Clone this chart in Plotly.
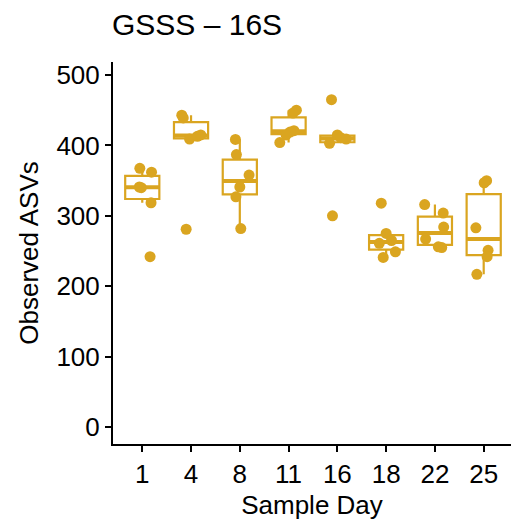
import numpy as np
import plotly.graph_objects as go

days = ["1", "4", "8", "11", "16", "18", "22", "25"]

asv_d1 = [367.5, 362, 341, 340, 318.6, 242]
asv_d4 = [443, 439, 409, 413, 415, 281]
asv_d8 = [408.6, 387, 358, 341, 327, 282]
asv_d11 = [450, 446, 421, 419, 415, 404]
asv_d16 = [465, 415, 411, 409, 403, 300]
asv_d18 = [318, 275, 265, 261, 249, 241]
asv_d22 = [316, 304, 284, 267, 256, 255]
asv_d25 = [350, 347, 283, 251, 242, 217]

jit_d1 = [-0.05, 0.19, -0.06, -0.02, 0.18, 0.16]
jit_d4 = [-0.19, -0.16, -0.03, 0.13, 0.20, -0.10]
jit_d8 = [-0.09, -0.07, 0.19, 0.00, -0.08, 0.02]
jit_d11 = [0.16, 0.09, 0.11, 0.03, -0.05, -0.18]
jit_d16 = [-0.12, 0.00, 0.07, 0.18, -0.16, -0.10]
jit_d18 = [-0.10, 0.00, 0.11, -0.14, 0.19, -0.06]
jit_d22 = [-0.21, 0.17, 0.18, -0.19, 0.07, 0.14]
jit_d25 = [0.06, 0.01, -0.16, 0.09, 0.07, -0.14]

groups = [asv_d1, asv_d4, asv_d8, asv_d11, asv_d16, asv_d18, asv_d22, asv_d25]
jitters = [jit_d1, jit_d4, jit_d8, jit_d11, jit_d16, jit_d18, jit_d22, jit_d25]

COL = "#DAA520"
FONT = "Liberation Sans, Arial, Helvetica, sans-serif"
BW = 0.70

pos = np.arange(1, len(days) + 1)
q1s, meds, q3s, lfs, ufs = [], [], [], [], []
for g in groups:
    a = np.array(g, dtype=float)
    q1, med, q3 = np.percentile(a, [25, 50, 75])
    iqr = q3 - q1
    lf = a[a >= q1 - 1.5 * iqr].min()
    uf = a[a <= q3 + 1.5 * iqr].max()
    q1s.append(q1); meds.append(med); q3s.append(q3); lfs.append(lf); ufs.append(uf)

fig = go.Figure()
fig.add_trace(go.Box(
    x=pos, q1=q1s, median=meds, q3=q3s, lowerfence=lfs, upperfence=ufs,
    boxpoints=False, width=BW, whiskerwidth=0,
    line=dict(color=COL, width=2.2), fillcolor="rgba(255,255,255,0)",
    showlegend=False, hoverinfo="skip",
))

# thicker median lines
mx, my = [], []
for p, m in zip(pos, meds):
    mx += [p - BW / 2, p + BW / 2, None]
    my += [m, m, None]
fig.add_trace(go.Scatter(x=mx, y=my, mode="lines", line=dict(color=COL, width=4),
                         showlegend=False, hoverinfo="skip"))

px, py = [], []
for p, g, j in zip(pos, groups, jitters):
    px += [p + o for o in j]
    py += list(g)
fig.add_trace(go.Scatter(x=px, y=py, mode="markers",
                         marker=dict(color=COL, size=11, line=dict(width=0)),
                         showlegend=False))

axis_common = dict(
    showline=True, linecolor="black", linewidth=2,
    ticks="outside", ticklen=6, tickwidth=2, tickcolor="black",
    showgrid=False, zeroline=False, automargin=False,
    tickfont=dict(family=FONT, size=26, color="black"),
)
fig.update_xaxes(range=[0.4, 8.56], tickvals=list(pos), ticktext=days,
                 title=dict(text="Sample Day", font=dict(family=FONT, size=26, color="black"), standoff=8),
                 **axis_common)
fig.update_yaxes(range=[-24, 518.5], tickvals=[0, 100, 200, 300, 400, 500],
                 title=dict(text="Observed ASVs", font=dict(family=FONT, size=26, color="black"), standoff=10),
                 **axis_common)

fig.update_layout(
    width=511, height=529,
    margin=dict(l=113, r=0, t=62, b=85),
    paper_bgcolor="white", plot_bgcolor="white",
    title=dict(text="GSSS – 16S", x=112 / 511, xref="container", xanchor="left",
               y=1 - 24 / 529, yref="container", yanchor="middle",
               font=dict(family=FONT, size=30, color="black")),
)

fig.write_html("out.html", config={"displayModeBar": False},
               post_script="document.body.style.margin='0';document.body.style.padding='0';")
